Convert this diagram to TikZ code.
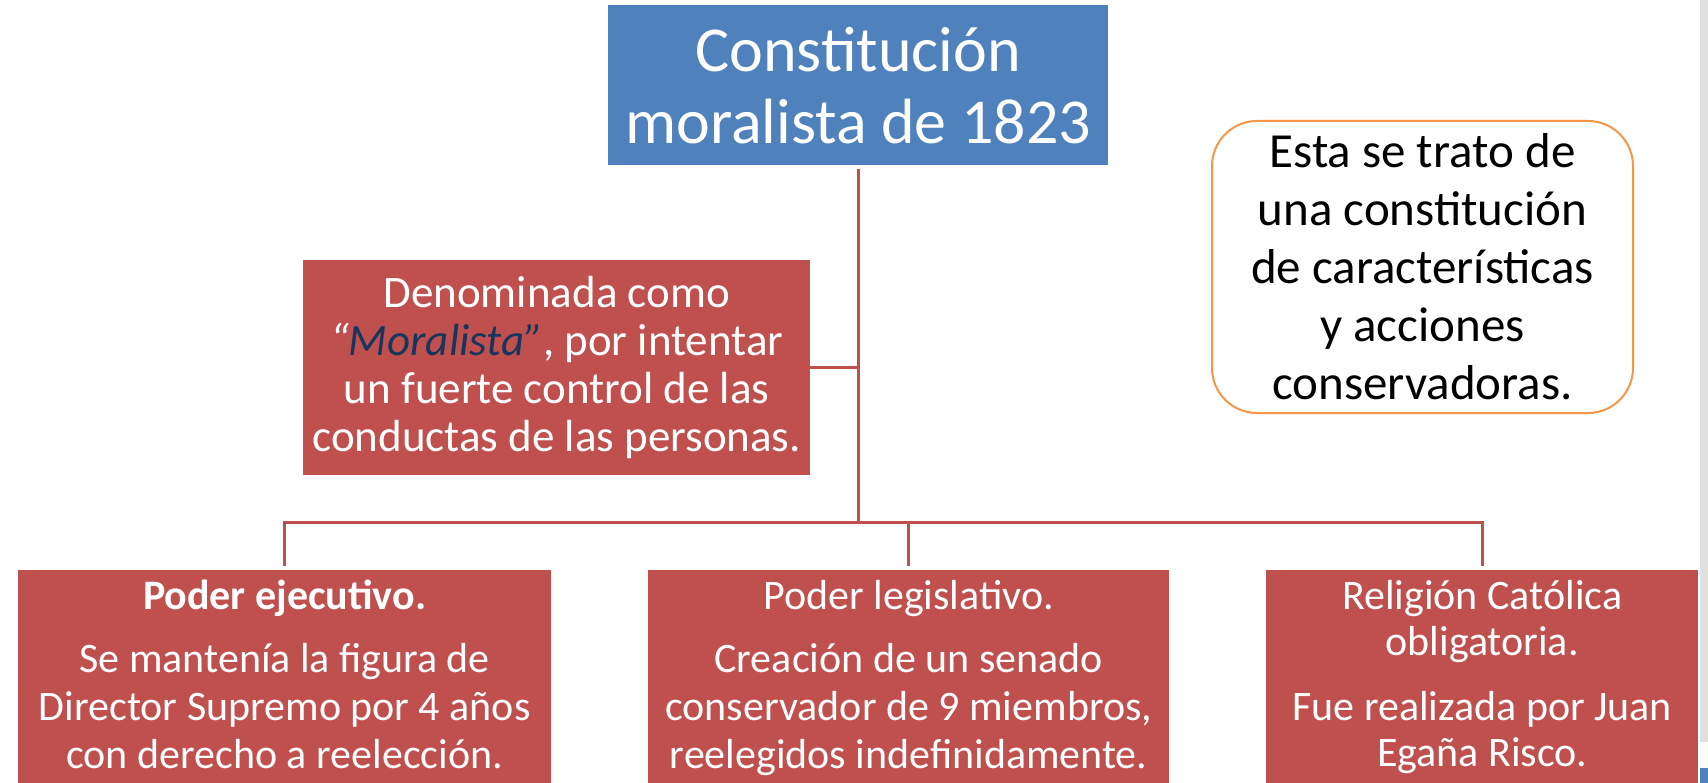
\documentclass[tikz,border=0pt]{standalone}
\usepackage{fontspec}
\setmainfont{Carlito}
\usetikzlibrary{positioning}
\definecolor{azul}{HTML}{4F81BD}
\definecolor{rojo}{HTML}{C0504D}
\definecolor{naranja}{HTML}{F79646}
\definecolor{marino}{HTML}{17365D}
\definecolor{gris}{HTML}{E0E0E0}
\begin{document}
\begin{tikzpicture}[x=1pt,y=-1pt,
    caja/.style={rectangle,fill=rojo,inner sep=0pt,anchor=north west},
    texto/.style={text=white,align=center,inner sep=0pt,anchor=north,font=\fontsize{42}{48}\selectfont},
    linea/.style={draw=rojo,line width=3pt}]
\useasboundingbox (0,0) rectangle (1708,783);
%titulo
        \node[rectangle,fill=azul,inner sep=0pt,anchor=north west,minimum width=500pt,minimum height=160pt,
              text=white,align=center,font=\fontsize{64}{72}\selectfont] (titulo) at (608,5) {Constitución\\moralista de 1823};
        \node[caja,minimum width=507pt,minimum height=215pt,text=white,align=center,
              font=\fontsize{45}{48}\selectfont] (deno) at (303,260)
              {Denominada como\\{\itshape “\textcolor{marino}{Moralista”}}, por intentar\\un fuerte control de las\\conductas de las personas.};
        \node[rectangle,rounded corners=45pt,draw=naranja,line width=2pt,fill=white,anchor=north west,
              minimum width=421pt,minimum height=292pt,align=center,font=\fontsize{49}{58}\selectfont] (nota) at (1211,120)
              {Esta se trato de\\una constitución\\de características\\y acciones\\conservadoras.};
%poderes
        \node[caja,minimum width=533pt,minimum height=213pt] (ejec) at (18,570) {};
        \node[caja,minimum width=521pt,minimum height=213pt] (legi) at (648,570) {};
        \node[caja,minimum width=432pt,minimum height=213pt] (reli) at (1266,570) {};
        \node[texto,below=10pt of ejec.north] (eject) {{\bfseries Poder ejecutivo.}\\[15pt]Se mantenía la figura de\\Director Supremo por 4 años\\con derecho a reelección.};
        \node[texto,below=10pt of legi.north] (legit) {Poder legislativo.\\[15pt]Creación de un senado\\conservador de 9 miembros,\\reelegidos indefinidamente.};
        \node[texto,below=10pt of reli.north,font=\fontsize{42}{46}\selectfont] (relit) {Religión Católica\\obligatoria.\\[19pt]Fue realizada por Juan\\Egaña Risco.};
%lineas
        \coordinate (bus) at (858,522);
        \draw[linea,shorten <=4pt] (titulo.south) -- (titulo.south |- bus);
        \draw[linea] (deno.east) -- (deno.east -| titulo.south);
        \draw[linea,shorten <=4pt,shorten >=4pt] (ejec.north) -- (ejec.north |- bus) -- (reli.north |- bus) -- (reli.north);
        \draw[linea,shorten >=4pt] (legi.north |- bus) -- (legi.north);
%barra
        \fill[gris] (1700,0) rectangle (1708,742);
        \fill[azul] (1700,768) rectangle (1708,783);
\end{tikzpicture}
\end{document}
